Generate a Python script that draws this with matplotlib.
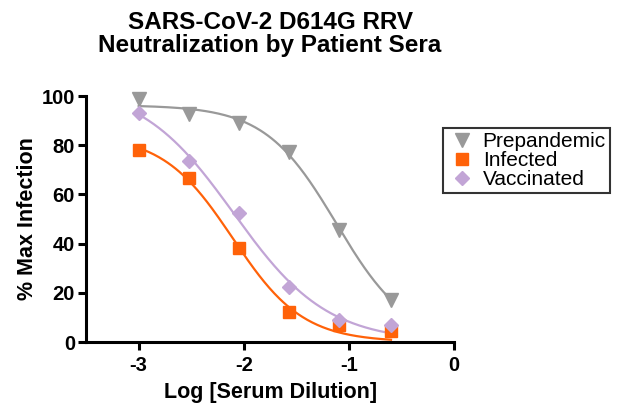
import numpy as np
import matplotlib
matplotlib.use("Agg")
import matplotlib.pyplot as plt

plt.rcParams['font.family'] = ['Liberation Sans', 'DejaVu Sans']
plt.rcParams['axes.unicode_minus'] = False

# log serum dilution (3-fold series)
log_dilution = [-3.0, -2.52, -2.05, -1.57, -1.09, -0.6]
prepandemic = [98.6, 92.5, 89.0, 77.4, 45.6, 17.2]
infected = [78.1, 66.8, 38.2, 12.4, 7.0, 4.3]
vaccinated = [93.1, 73.6, 52.4, 22.3, 9.0, 6.8]

labels = ['Prepandemic', 'Infected', 'Vaccinated']
colors = ['#999999', '#FF6209', '#C2A5D6']
markers = ['v', 's', 'D']
msizes = [10, 9, 7]


def logistic(p, x):
    bottom, top, c, h = p
    return bottom + (top - bottom) / (1 + 10 ** ((x - c) * h))


def fit_curve(x, y):
    # dose response fit, bottom held at 0, top / logIC50 / hill free
    x = np.asarray(x); y = np.asarray(y)
    idx = [1, 2, 3]
    p = np.array([0.0, 100.0, x[np.argmin(abs(y - 50))], 1.0])
    lam = 1e-2
    for _ in range(800):
        r = y - logistic(p, x)
        J = np.zeros((len(x), len(idx)))
        for j, k in enumerate(idx):
            dp = np.zeros(4); dp[k] = 1e-6
            J[:, j] = (logistic(p + dp, x) - logistic(p, x)) / 1e-6
        A = J.T @ J
        step = np.linalg.solve(A + lam * np.diag(np.diag(A) + 1e-9), J.T @ r)
        pn = p.copy(); pn[idx] += step
        if np.sum((y - logistic(pn, x)) ** 2) < np.sum(r ** 2):
            p = pn; lam = max(lam / 3, 1e-9)
        else:
            lam = min(lam * 3, 1e9)
    return p


fig = plt.figure(figsize=(6.24, 4.2), dpi=100)
ax = fig.add_axes([0.138, 0.1857, 0.5897, 0.5857])

xs = np.linspace(min(log_dilution), max(log_dilution), 200)
for ys, lab, c, m, ms in zip([prepandemic, infected, vaccinated], labels, colors, markers, msizes):
    p = fit_curve(log_dilution, ys)
    ax.plot(xs, logistic(p, xs), color=c, lw=1.6, zorder=2)
    ax.plot(log_dilution, ys, ls='none', marker=m, ms=ms, color=c, label=lab, zorder=3,
            clip_on=False)

ax.set_xlim(-3.5, 0)
ax.set_ylim(0, 100)
ax.set_xticks([-3, -2, -1, 0])
ax.set_yticks([0, 20, 40, 60, 80, 100])
ax.spines['top'].set_visible(False)
ax.spines['right'].set_visible(False)
for s in ['left', 'bottom']:
    ax.spines[s].set_linewidth(2.2)
ax.tick_params(width=2.2, length=6, labelsize=14.5, direction='out')
ax.tick_params(axis='y', pad=2)
ax.tick_params(axis='x', pad=4)
for t in ax.get_xticklabels() + ax.get_yticklabels():
    t.set_fontweight('bold')
ax.set_xlabel('Log [Serum Dilution]', fontsize=15.5, fontweight='bold', labelpad=5)
ax.set_ylabel('% Max Infection', fontsize=15.5, fontweight='bold', labelpad=2.5)
ax.set_title('SARS-CoV-2 D614G RRV\nNeutralization by Patient Sera', fontsize=17.5,
             fontweight='bold', pad=32, linespacing=0.95)

leg = ax.legend(loc='upper left', bbox_to_anchor=(0.97, 0.87), borderaxespad=0,
                fontsize=15, frameon=True, fancybox=False, handletextpad=0.3,
                borderpad=0.2, labelspacing=0.0, handlelength=1.4)
leg.get_frame().set_edgecolor('black')
leg.get_frame().set_linewidth(1.5)

fig.savefig('out.png', dpi=100)
